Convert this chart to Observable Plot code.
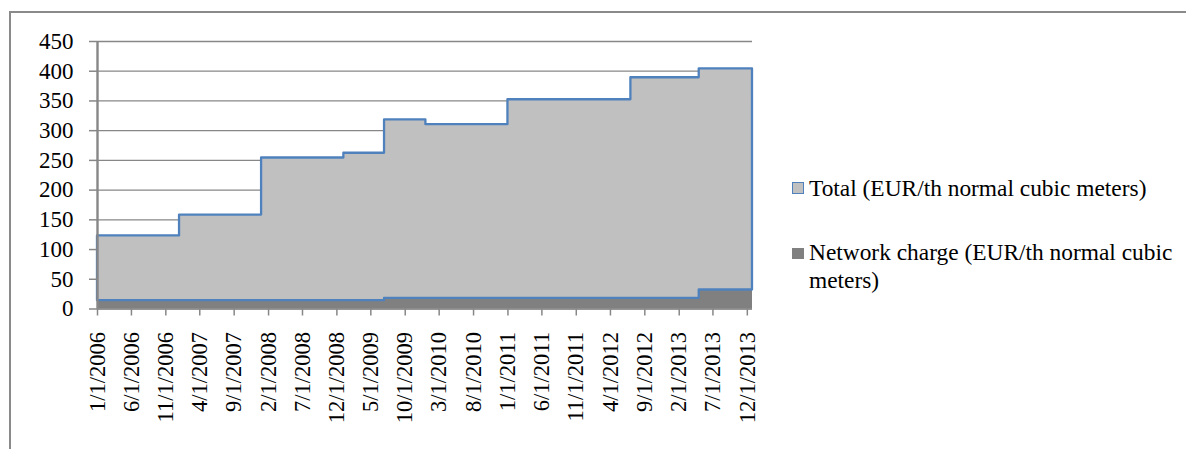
<!DOCTYPE html>
<html>
<head>
<meta charset="utf-8">
<script src="https://cdn.jsdelivr.net/npm/d3@7"></script>
<script src="https://cdn.jsdelivr.net/npm/@observablehq/plot@0.6"></script>
<style>
  html, body { margin: 0; padding: 0; background: #fff; }
  #wrap { position: relative; width: 1186px; height: 449px; overflow: hidden; font-family: "Liberation Serif", "Times New Roman", serif; }
  #frame { position: absolute; left: 9px; top: 11px; width: 1300px; height: 600px; border-left: 2px solid #8a8a8a; border-top: 2px solid #8a8a8a; box-sizing: border-box; }
  #chart { position: absolute; left: 0; top: 0; }
  .leg { position: absolute; left: 809px; font-size: 23.4px; line-height: 28px; color: #000; white-space: normal; width: 372px; }
  .sw { position: absolute; left: 792px; width: 12px; height: 12px; box-sizing: border-box; }
</style>
</head>
<body>
<div id="wrap">
  <div id="frame"></div>
  <div id="chart"></div>
  <div class="sw" style="top:182px; background:#c0c0c0; border:1.5px solid #4f81bd;"></div>
  <div class="leg" id="leg1" style="top:174px;"></div>
  <div class="sw" style="top:248px; height:11px; background:#808080;"></div>
  <div class="leg" id="leg2" style="top:238px;"></div>
</div>
<script>
// ---- data ----
const changeDates   = ["2006-01-01","2007-01-01","2008-01-01","2009-01-01","2009-07-01","2010-01-01","2011-01-01","2012-07-01","2013-05-01"];
const totalValues   = [123, 158, 254, 262, 318, 310, 352, 389, 404];
const networkValues = [14, 14, 14, 14, 18, 18, 18, 18, 32];
const axisStart = "2006-01-01";
const axisEnd   = "2013-12-24";
const yTicks = [0, 50, 100, 150, 200, 250, 300, 350, 400, 450];
const xTickLabels = ["1/1/2006","6/1/2006","11/1/2006","4/1/2007","9/1/2007","2/1/2008","7/1/2008","12/1/2008","5/1/2009","10/1/2009","3/1/2010","8/1/2010","1/1/2011","6/1/2011","11/1/2011","4/1/2012","9/1/2012","2/1/2013","7/1/2013","12/1/2013"];
const seriesNames = ["Total (EUR/th normal cubic meters)", "Network charge (EUR/th normal cubic meters)"];

// ---- build table ----
const rows = changeDates.map((d, i) => ({date: new Date(d), total: totalValues[i], network: networkValues[i]}));
rows.push({date: new Date(axisEnd), total: totalValues[totalValues.length - 1], network: networkValues[networkValues.length - 1]});

const parseMDY = s => { const [m, d, y] = s.split("/").map(Number); return new Date(Date.UTC(y, m - 1, d)); };
const xTicks = xTickLabels.map(parseMDY);
const labelMap = new Map(xTicks.map((d, i) => [+d, xTickLabels[i]]));

const gridColor = "#878787";

const chart = Plot.plot({
  width: 1186,
  height: 449,
  marginLeft: 97,
  marginRight: 434,
  marginTop: 41,
  marginBottom: 140.5,
  style: {fontFamily: "Liberation Serif, Times New Roman, serif", fontSize: "23px", background: "transparent", color: "#000", overflow: "visible"},
  x: {type: "utc", domain: [new Date(axisStart), new Date(axisEnd)], axis: null},
  y: {domain: [0, 450], axis: null},
  marks: [
    Plot.gridY(yTicks, {stroke: gridColor, strokeOpacity: 1, strokeWidth: 1.3}),
    Plot.areaY(rows, {x: "date", y: "network", curve: "step-after", fill: "#808080"}),
    Plot.areaY(rows, {x: "date", y1: "network", y2: "total", curve: "step-after", fill: "#c0c0c0", stroke: "#4f81bd", strokeWidth: 2.3}),
    Plot.ruleY([0], {stroke: gridColor, strokeWidth: 1}),
    Plot.ruleX([new Date(axisStart)], {y1: 0, y2: 450, stroke: gridColor, strokeWidth: 2.4}),
    Plot.axisY(yTicks, {tickSize: 8, tickPadding: 16, fontSize: 23, stroke: gridColor, strokeWidth: 1.5, fill: "#000", tickFormat: d => String(d)}),
    Plot.axisX(xTicks, {tickSize: 7, tickPadding: 16, tickRotate: -90, fontSize: 22.5, stroke: gridColor, strokeWidth: 1.5, fill: "#000", tickFormat: d => labelMap.get(+d)})
  ]
});
document.getElementById("chart").appendChild(chart);
document.getElementById("leg1").textContent = seriesNames[0];
document.getElementById("leg2").textContent = seriesNames[1];
</script>
</body>
</html>
